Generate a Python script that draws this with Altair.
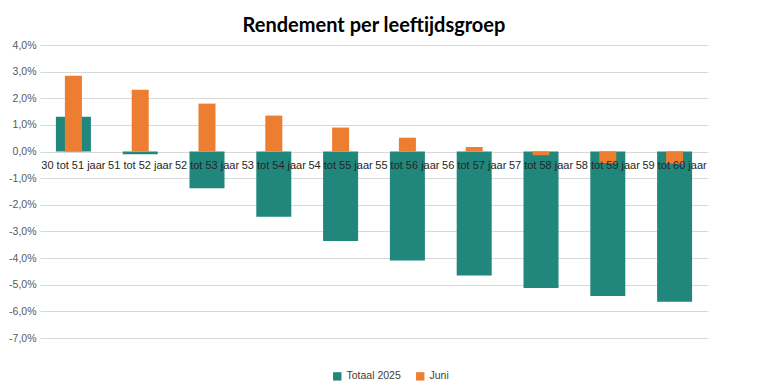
import altair as alt
import pandas as pd

categories = ["30 tot 51 jaar", "51 tot 52 jaar", "52 tot 53 jaar", "53 tot 54 jaar",
              "54 tot 55 jaar", "55 tot 56 jaar", "56 tot 57 jaar", "57 tot 58 jaar",
              "58 tot 59 jaar", "59 tot 60 jaar"]
totaal_2025 = [1.31, -0.10, -1.38, -2.45, -3.36, -4.09, -4.65, -5.12, -5.42, -5.64]
juni = [2.85, 2.32, 1.80, 1.35, 0.90, 0.52, 0.17, -0.14, -0.43, -0.46]
series = ["Totaal 2025", "Juni"]
colors = ["#21867B", "#ED7D31"]
y_ticks = [-7, -6, -5, -4, -3, -2, -1, 0, 1, 2, 3, 4]

df = pd.DataFrame({
    "cat": categories * 2,
    "serie": [series[0]] * len(categories) + [series[1]] * len(categories),
    "val": totaal_2025 + juni,
})
lab = pd.DataFrame({"cat": categories, "zero": [0] * len(categories)})

xs = alt.X("cat:N", sort=categories, axis=None, scale=alt.Scale(paddingInner=0, paddingOuter=0))
ys = alt.Y("val:Q", scale=alt.Scale(domain=[-7, 4], nice=False),
           axis=alt.Axis(values=y_ticks, tickCount=len(y_ticks), title=None, domain=False,
                         ticks=False, labelOverlap=False,
                         labelExpr="(datum.value < 0 ? '-' : '') + replace(format(abs(datum.value), '.1f'), '.', ',') + '%'",
                         labelFont="Liberation Sans", labelFontSize=10.5,
                         labelColor="#595959", labelPadding=4, gridColor="#D9D9D9", gridWidth=1))
color = alt.Color("serie:N", sort=series, scale=alt.Scale(domain=series, range=colors),
                  legend=alt.Legend(title=None, orient="none", legendX=292, legendY=326,
                                    direction="horizontal",
                                    symbolType="square", symbolSize=70, labelFont="Liberation Sans",
                                    labelFontSize=10.5, labelColor="#404040",
                                    columnPadding=14, symbolStrokeWidth=0))

teal = alt.Chart(df).transform_filter(alt.datum.serie == series[0]).mark_bar(size=35).encode(
    x=xs, y=ys, color=color)
orange = alt.Chart(df).transform_filter(alt.datum.serie == series[1]).mark_bar(size=17).encode(
    x=xs, y=ys, color=color)
labels = alt.Chart(lab).mark_text(dy=14, baseline="middle", font="Liberation Sans",
                                  fontSize=11, color="#262626").encode(
    x=alt.X("cat:N", sort=categories), y=alt.Y("zero:Q"), text="cat:N")

chart = alt.layer(teal, orange, labels).properties(
    width=668, height=293,
    padding={"left": 32, "top": 37, "right": 42, "bottom": 46},
    autosize=alt.AutoSizeParams(type="none"),
    title=alt.TitleParams("Rendement per leeftijdsgroep", font="Lato", fontSize=20,
                          fontWeight="bold", color="#000000", anchor="middle", offset=4),
).configure_view(stroke=None).configure_axis(grid=True)

chart.save("out.html", embed_options={"renderer": "svg", "actions": False})
